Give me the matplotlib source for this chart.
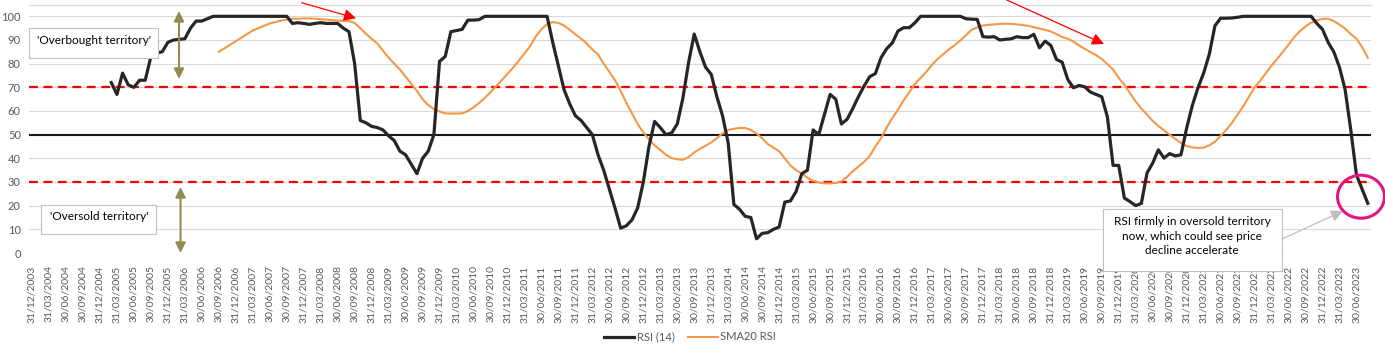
import numpy as np
import pandas as pd
import matplotlib
matplotlib.use("Agg")
import matplotlib.pyplot as plt
from matplotlib.patches import Rectangle, Ellipse, FancyArrowPatch

plt.rcParams['font.family'] = ['Lato', 'DejaVu Sans']

# ── data (monthly, month-end) ────────────────────────────────────────────────
N_MONTHS = 237
dates = pd.date_range('2003-12-31', periods=N_MONTHS, freq='ME')
date_labels = [d.strftime('%d/%m/%Y') for d in dates]

RSI_START = 14
rsi = [72, 67, 76, 71, 70, 73, 73, 83, 84.5, 85,
       89, 90, 90.3, 90.5, 95, 98, 98, 99, 100, 100,
       100, 100, 100, 100, 100, 100, 100, 100, 100, 100,
       100, 100, 97, 97.3, 97, 96.6, 97, 97.3, 97, 97,
       97, 95, 93.5, 80, 56, 55, 53.5, 53, 52, 49.5,
       47.5, 43, 41.5, 37.5, 33.5, 40, 43, 50, 81, 83,
       93.5, 94, 94.5, 98.4, 98.4, 98.6, 100, 100, 100, 100,
       100, 100, 100, 100, 100, 100, 100, 100, 89, 79,
       69, 63, 58, 56, 53, 50, 41.5, 35, 27, 19,
       10.5, 11.5, 14, 19, 30, 45, 55.6, 53, 50, 50.7,
       54.5, 65.5, 80.5, 92.5, 85, 78.5, 75.5, 66, 58, 46.5,
       20.5, 18.5, 15.5, 15, 6, 8.3, 8.6, 10, 11, 21.5,
       22, 26, 33.5, 35, 52, 50, 58.5, 67, 65, 54.5,
       56.5, 61, 66, 70.5, 74.5, 75.8, 82.5, 86.3, 88.8, 93.8,
       95.2, 95.2, 97.3, 100, 100, 100, 100, 100, 100, 100,
       100, 99, 98.8, 98.7, 91.4, 91.2, 91.4, 90, 90.3, 90.5,
       91.4, 91, 91, 92.4, 86.7, 89.5, 87.7, 81.8, 80.6, 73.3,
       69.8, 70.8, 70.2, 68, 67, 66, 57.5, 37, 37, 23.2,
       21.7, 20, 21, 33.8, 38, 43.6, 40.1, 42, 41, 41.5,
       52.8, 62.3, 69.8, 76, 84, 96, 99.2, 99.2, 99.3, 99.6,
       100, 100, 100, 100, 100, 100, 100, 100, 100, 100,
       100, 100, 100, 97, 94.5, 89, 85, 78.5, 69, 52,
       33, 27, 21]

SMA_START = 33
sma = [85, 86.5, 88, 89.5, 91, 92.5, 94, 95, 96, 97,
       97.6, 98.2, 98.6, 99, 99, 99.1, 99.1, 99, 98.8, 98.6,
       98.4, 98.2, 98.1, 98, 97.2, 95, 92.6, 90.5, 88.5, 85.5,
       82.5, 80, 77.5, 74.5, 71.5, 68.5, 65, 62.5, 60.8, 59.8,
       59, 58.9, 58.9, 59, 60, 61.5, 63.4, 65.5, 68, 70.5,
       73, 75.7, 78.3, 81.3, 84.3, 87.4, 91.5, 94.5, 96.7, 97.6,
       97.2, 96.1, 94.3, 92.4, 90.6, 88.5, 86, 83.9, 80, 76.5,
       73, 68.5, 63.5, 59, 54.5, 51, 48, 45.5, 43.5, 41.5,
       40.1, 39.6, 39.4, 40.5, 42.5, 44, 45.3, 46.7, 48.5, 50.5,
       52, 52.5, 52.8, 52.8, 52, 50.5, 48.5, 46, 44.5, 43,
       40, 37, 35, 33.5, 31.8, 30.5, 29.8, 29.4, 29.4, 29.6,
       30.2, 32.2, 34.5, 36.5, 38.5, 41, 45, 48.5, 53, 57,
       60.5, 64.5, 68, 71.5, 74, 76.5, 79.5, 82, 84, 86,
       87.8, 89.8, 92, 94.3, 95.3, 96.1, 96.4, 96.6, 96.8, 96.9,
       96.8, 96.6, 96.3, 96, 95.4, 94.8, 94.3, 93.6, 92.5, 91.3,
       90.5, 89.3, 87.7, 86.2, 84.9, 83.6, 82, 79.8, 77.5, 74,
       71, 67.5, 64, 61, 58.5, 55.8, 53.7, 51.8, 50, 48.2,
       46.5, 45.2, 44.6, 44.4, 44.5, 45.5, 47, 49.5, 52, 55,
       58.5, 62, 66, 70, 72.8, 76, 79.2, 82, 85, 88,
       91.2, 93.7, 95.8, 97.3, 98.3, 98.9, 99, 98, 96.5, 94.8,
       92.5, 90.5, 87, 82.5]

OVERBOUGHT = 70
MIDLINE = 50
OVERSOLD = 30

# ── plot ─────────────────────────────────────────────────────────────────────
W, H = 1385, 351
fig = plt.figure(figsize=(W / 100, H / 100), dpi=100)


def fx(x):
    return x / W


def fy(y):
    return 1 - y / H


ax = fig.add_axes([fx(29.2), fy(253), fx(1370.6) - fx(29.2), fy(5.2) - fy(253)])

x_rsi = np.arange(RSI_START, RSI_START + len(rsi))
x_sma = np.arange(SMA_START, SMA_START + len(sma))

ax.axhline(OVERBOUGHT, color='#FF0000', lw=1.6, ls=(0, (4, 2.5)), zorder=2)
ax.axhline(OVERSOLD, color='#FF0000', lw=1.6, ls=(0, (4, 2.5)), zorder=2)
ax.axhline(MIDLINE, color='#1a1a1a', lw=1.5, zorder=2)

ax.plot(x_rsi, rsi, color='#262626', lw=2.3, label='RSI (14)', zorder=4)
ax.plot(x_sma, sma, color='#F79646', lw=1.5, label='SMA20 RSI', zorder=3)

ax.set_xlim(-0.5, N_MONTHS - 0.5)
ax.set_ylim(0, 104.7)
ax.set_yticks(range(0, 101, 10))
ax.set_xticks(range(0, N_MONTHS, 3))
ax.set_xticklabels(date_labels[::3], rotation=90)
ax.tick_params(axis='both', length=0, labelcolor='#595959')
ax.tick_params(axis='x', pad=9, labelsize=7.5)
ax.tick_params(axis='y', pad=6, labelsize=8)
ax.grid(axis='y', color='#D9D9D9', lw=0.8)
ax.set_axisbelow(True)
for side in ['left', 'right', 'bottom']:
    ax.spines[side].set_visible(False)
ax.spines['top'].set_color('#D9D9D9')
ax.spines['top'].set_linewidth(0.8)

fig.legend(loc='center', bbox_to_anchor=(fx(690), fy(337)), ncol=2,
           frameon=False, fontsize=8, handlelength=2.7, columnspacing=1.2,
           handletextpad=0.2, labelcolor='#595959')

# ── annotations (figure pixel positions) ─────────────────────────────────────


def box(x0, y0, x1, y1):
    fig.patches.append(Rectangle((fx(x0), fy(y1)), fx(x1) - fx(x0), fy(y0) - fy(y1),
                                 transform=fig.transFigure, facecolor='white',
                                 edgecolor='#BFBFBF', lw=0.8, zorder=5))


def arrow(p0, p1, color, style, lw, scale):
    fig.patches.append(FancyArrowPatch((fx(p0[0]), fy(p0[1])), (fx(p1[0]), fy(p1[1])),
                                       transform=fig.transFigure, arrowstyle=style,
                                       mutation_scale=scale, color=color, lw=lw,
                                       shrinkA=0, shrinkB=0, zorder=6))


box(29, 28, 158, 58)
fig.text(fx(94), fy(41), "'Overbought territory'", ha='center', va='center',
         fontsize=8.5, color='black', zorder=7)
box(41, 205, 156, 234)
fig.text(fx(99), fy(217), "'Oversold territory'", ha='center', va='center',
         fontsize=8.5, color='black', zorder=7)
box(1103, 209, 1282, 271)
fig.text(fx(1192), fy(236), "RSI firmly in oversold territory\nnow, which could see price\ndecline accelerate",
         ha='center', va='center', fontsize=8.5, color='black', linespacing=1.35, zorder=7)

olive = '#948A54'
arrow((179, 11), (179, 79), olive, '<|-|>,head_length=0.5,head_width=0.25', 1.5, 12)
arrow((180.5, 187), (180.5, 253), olive, '<|-|>,head_length=0.5,head_width=0.25', 1.5, 12)

arrow((301.7, 2.7), (356, 18.3), '#FF0000', '-|>,head_length=0.6,head_width=0.3', 0.9, 12)
arrow((1006.7, 0), (1104, 44), '#FF0000', '-|>,head_length=0.6,head_width=0.3', 0.9, 12)
arrow((1282, 239), (1343, 211), '#BFBFBF', '-|>,head_length=0.6,head_width=0.3', 0.9, 12)

fig.patches.append(Ellipse((fx(1361), fy(196.7)), fx(47), 43 / H,
                           transform=fig.transFigure, fill=False,
                           edgecolor='#E5157F', lw=2.2, zorder=6))

fig.savefig('out.png', dpi=100)
